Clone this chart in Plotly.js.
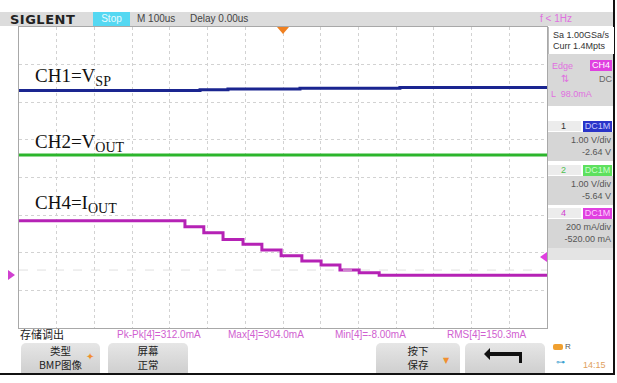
<!DOCTYPE html>
<html><head><meta charset="utf-8">
<script src="https://cdn.plot.ly/plotly-3.0.1.min.js"></script>
<style>
body{margin:0;width:617px;height:383px;overflow:hidden;background:#fff;font-family:"Liberation Sans Narrow","Liberation Sans",Arial,sans-serif;}
#wrap{position:relative;width:617px;height:383px;}
#plot{position:absolute;left:0;top:0;width:617px;height:383px;}
.ab{position:absolute;white-space:nowrap;line-height:1;}
.lbl{position:absolute;white-space:nowrap;font-family:"Liberation Serif","Times New Roman",serif;font-size:19px;line-height:19px;color:#111;}
.lbl sub{font-size:14px;vertical-align:-4px;line-height:0;}
.sm{font-size:9px;color:#555;}
.btn{position:absolute;top:343px;height:30px;background:linear-gradient(#e6e6e6,#cfcfcf);border-radius:5px 5px 0 0;font-family:"Noto Sans CJK SC",sans-serif;font-size:10.5px;color:#222;text-align:center;}
.btn div{height:13px;line-height:13px;margin-top:1px;}
.meas{position:absolute;top:330px;font-size:10px;color:#d060d0;white-space:nowrap;line-height:1;}
.tab{position:absolute;height:10px;font-size:9px;line-height:10px;}
</style></head>
<body><div id="wrap">
<div id="plot"></div>

<!-- header bar -->
<div class="ab" style="left:0;top:12px;width:613px;height:14px;background:#dcdcdc;"></div>
<div class="ab" style="left:10px;top:13px;font-family:'DejaVu Sans',sans-serif;font-weight:bold;font-size:13px;letter-spacing:0.5px;color:#222;">SIGLENT</div>
<div class="ab" style="left:93px;top:12px;width:37px;height:14px;background:#55d8f2;color:#e8fbff;font-size:10px;line-height:14px;text-align:center;">Stop</div>
<div class="ab" style="left:137px;top:14px;font-size:10px;color:#444;">M 100us</div>
<div class="ab" style="left:190px;top:14px;font-size:10px;color:#444;">Delay 0.00us</div>
<div class="ab" style="left:540px;top:14px;font-size:10px;color:#e070e0;">f &lt; 1Hz</div>

<!-- right panel -->
<div class="ab" style="left:613px;top:0;width:2px;height:375px;background:#111;"></div>
<div class="ab" style="left:548px;top:27px;width:65px;height:27px;background:#fff;border-left:1px solid #bbb;"></div>
<div class="ab sm" style="left:553px;top:31px;color:#333;">Sa 1.00GSa/s</div>
<div class="ab sm" style="left:553px;top:42px;color:#333;">Curr 1.4Mpts</div>
<div class="ab" style="left:548px;top:54px;width:65px;height:52px;background:#d8d8d8;"></div>
<div class="ab sm" style="left:552px;top:62px;color:#e070e0;">Edge</div>
<div class="ab" style="left:590px;top:60px;width:22px;height:11px;background:#e040e0;color:#fff;font-size:9px;line-height:11px;text-align:center;">CH4</div>
<div class="ab" style="left:561px;top:74px;font-size:10px;color:#e070e0;font-family:'DejaVu Sans',sans-serif;">⇅</div>
<div class="ab sm" style="left:599px;top:75px;color:#666;">DC</div>
<div class="ab sm" style="left:551px;top:90px;color:#e070e0;">L &nbsp;98.0mA</div>

<div class="ab" style="left:548px;top:121px;width:33px;height:10px;background:#ececec;"></div>
<div class="tab" style="left:561px;top:121px;color:#333;">1</div>
<div class="ab" style="left:583px;top:121px;width:29px;height:11px;background:#2a34c8;color:#c8ccff;font-size:9px;line-height:11px;text-align:center;">DC1M</div>
<div class="ab" style="left:548px;top:132px;width:65px;height:29px;background:#d6d6d6;"></div>
<div class="ab sm" style="right:6px;top:136px;">1.00 V/div</div>
<div class="ab sm" style="right:6px;top:148px;">-2.64 V</div>

<div class="ab" style="left:548px;top:165px;width:33px;height:10px;background:#ececec;"></div>
<div class="tab" style="left:561px;top:165px;color:#50c050;">2</div>
<div class="ab" style="left:583px;top:165px;width:29px;height:11px;background:#5ee05e;color:#c8ffc8;font-size:9px;line-height:11px;text-align:center;">DC1M</div>
<div class="ab" style="left:548px;top:176px;width:65px;height:29px;background:#d6d6d6;"></div>
<div class="ab sm" style="right:6px;top:180px;">1.00 V/div</div>
<div class="ab sm" style="right:6px;top:192px;">-5.64 V</div>

<div class="ab" style="left:548px;top:208px;width:33px;height:10px;background:#ececec;"></div>
<div class="tab" style="left:561px;top:208px;color:#d040d0;">4</div>
<div class="ab" style="left:583px;top:208px;width:29px;height:11px;background:#e040e0;color:#ffd0ff;font-size:9px;line-height:11px;text-align:center;">DC1M</div>
<div class="ab" style="left:548px;top:219px;width:65px;height:29px;background:#d6d6d6;"></div>
<div class="ab sm" style="right:6px;top:223px;">200 mA/div</div>
<div class="ab sm" style="right:6px;top:235px;">-520.00 mA</div>
<div class="ab" style="left:548px;top:248px;width:65px;height:12px;background:#e4e4e4;"></div>

<!-- channel labels -->
<div class="lbl" style="left:35px;top:66px;">CH1=V<sub>SP</sub></div>
<div class="lbl" style="left:35px;top:132px;">CH2=V<sub>OUT</sub></div>
<div class="lbl" style="left:35px;top:193px;">CH4=I<sub>OUT</sub></div>

<!-- bottom -->
<div class="ab" style="left:20px;top:329px;font-family:'Noto Sans CJK SC',sans-serif;font-size:11px;color:#222;">存储调出</div>
<div class="meas" style="left:117px;">Pk-Pk[4]=312.0mA</div>
<div class="meas" style="left:228px;">Max[4]=304.0mA</div>
<div class="meas" style="left:335px;">Min[4]=-8.00mA</div>
<div class="meas" style="left:447px;">RMS[4]=150.3mA</div>

<div class="btn" style="left:21px;width:79px;"><div>类型</div><div>BMP图像</div></div>
<div class="ab" style="left:86px;top:352px;font-size:10px;color:#f09030;">✦</div>
<div class="btn" style="left:108px;width:80px;"><div>屏幕</div><div>正常</div></div>
<div class="btn" style="left:376px;width:84px;"><div>按下</div><div>保存</div></div>
<div class="ab" style="left:443px;top:357px;font-size:8px;color:#f09030;font-family:'DejaVu Sans',sans-serif;">▼</div>
<div class="btn" style="left:465px;width:80px;"></div>
<div class="ab" style="left:553px;top:344px;width:10px;height:6px;background:#f0a030;border-radius:2px;"></div>
<div class="ab" style="left:565px;top:343px;font-size:8px;color:#555;">R</div>
<div class="ab" style="left:556px;top:358px;font-size:9px;color:#3aa0d0;">⊶</div>
<div class="ab" style="left:583px;top:361px;font-size:9px;color:#e0a060;">14:15</div>
<div class="ab" style="left:0;top:373px;width:615px;height:2px;background:#111;"></div>

<svg class="ab" style="left:0;top:0;" width="617" height="383">
  <polygon points="277,27 289,27 283,34" fill="#f08020"/>
  <polygon points="8,270 8,280 15,275" fill="#d040d0"/>
  <polygon points="547,252 547,262 540,257" fill="#e040e0"/>
  <path d="M490,352 L490,348 L484,354 L490,360 L490,356 L519,356 L519,363 L522,363 L522,352 Z" fill="#111"/>
</svg>
</div>
<script>
// time axis: 100 us/div, 14 divisions
const timeRangeUs = [-700, 700];
// CH1 (V_SP): 1.00 V/div, offset -2.64 V
const ch1Scale = 1.0, ch1Offset = -2.64;
const ch1Time = [-700, -220, -146, 45, 310, 700];
const ch1Volt = [4.95, 4.97, 4.99, 5.01, 5.03, 5.03];
// CH2 (V_OUT): 1.00 V/div, offset -5.64 V
const ch2Scale = 1.0, ch2Offset = -5.64;
const ch2Time = [-700, 700];
const ch2Volt = [6.24, 6.24];
// CH4 (I_OUT): 200 mA/div, offset -520 mA
const ch4Scale = 200, ch4Offset = -520;
const ch4Time = [-700, -260, -210, -159, -106, -56, -5, 50, 101, 151, 202, 255, 700];
const ch4mA   = [290, 258, 226, 191, 165, 134, 104, 76, 55, 28, 14, 0, 0];

const divs = 4;
function rng(scale, offset){ return [-divs*scale - offset, divs*scale - offset]; }

const traces = [
  {x: [timeRangeUs[0]], y: [0], xaxis: 'x', yaxis: 'y', type: 'scatter', mode: 'markers', marker: {opacity: 0}, hoverinfo: 'skip'},
  {x: ch1Time, y: ch1Volt, xaxis: 'x', yaxis: 'y2', type: 'scatter', mode: 'lines', line: {color: '#1a2590', width: 3, shape: 'hv'}, hoverinfo: 'skip'},
  {x: ch2Time, y: ch2Volt, xaxis: 'x', yaxis: 'y3', type: 'scatter', mode: 'lines', line: {color: '#2cb52c', width: 3}, hoverinfo: 'skip'},
  {x: ch4Time, y: ch4mA, xaxis: 'x', yaxis: 'y4', type: 'scatter', mode: 'lines', line: {color: '#b522b5', width: 3, shape: 'hv'}, hoverinfo: 'skip'}
];
const gridAx = {tickmode: 'linear', showgrid: true, gridcolor: '#d2d2d2', griddash: 'dot', gridwidth: 1, zeroline: false,
  showticklabels: false, ticks: '', showline: true, mirror: true, linecolor: '#a8a8a8', linewidth: 1, fixedrange: true};
const hiddenAx = {overlaying: 'y', anchor: 'x', showgrid: false, zeroline: false, showticklabels: false,
  ticks: '', showline: false, fixedrange: true};
const layout = {
  width: 617, height: 383,
  margin: {l: 19, r: 70, t: 27, b: 55, pad: 0},
  paper_bgcolor: 'rgba(0,0,0,0)', plot_bgcolor: 'rgba(0,0,0,0)',
  showlegend: false,
  xaxis: Object.assign({range: timeRangeUs, dtick: 100, tick0: 0}, gridAx),
  yaxis: Object.assign({range: [-divs, divs], dtick: 1, tick0: 0}, gridAx),
  yaxis2: Object.assign({range: rng(ch1Scale, ch1Offset)}, hiddenAx),
  yaxis3: Object.assign({range: rng(ch2Scale, ch2Offset)}, hiddenAx),
  yaxis4: Object.assign({range: rng(ch4Scale, ch4Offset)}, hiddenAx),
  shapes: [{type: 'line', xref: 'paper', x0: 0, x1: 1, yref: 'y4', y0: 28, y1: 28,
            line: {color: '#e0e0e0', width: 1, dash: 'dash'}}]
};
Plotly.newPlot('plot', traces, layout, {staticPlot: true, displayModeBar: false});
</script>
</body></html>
